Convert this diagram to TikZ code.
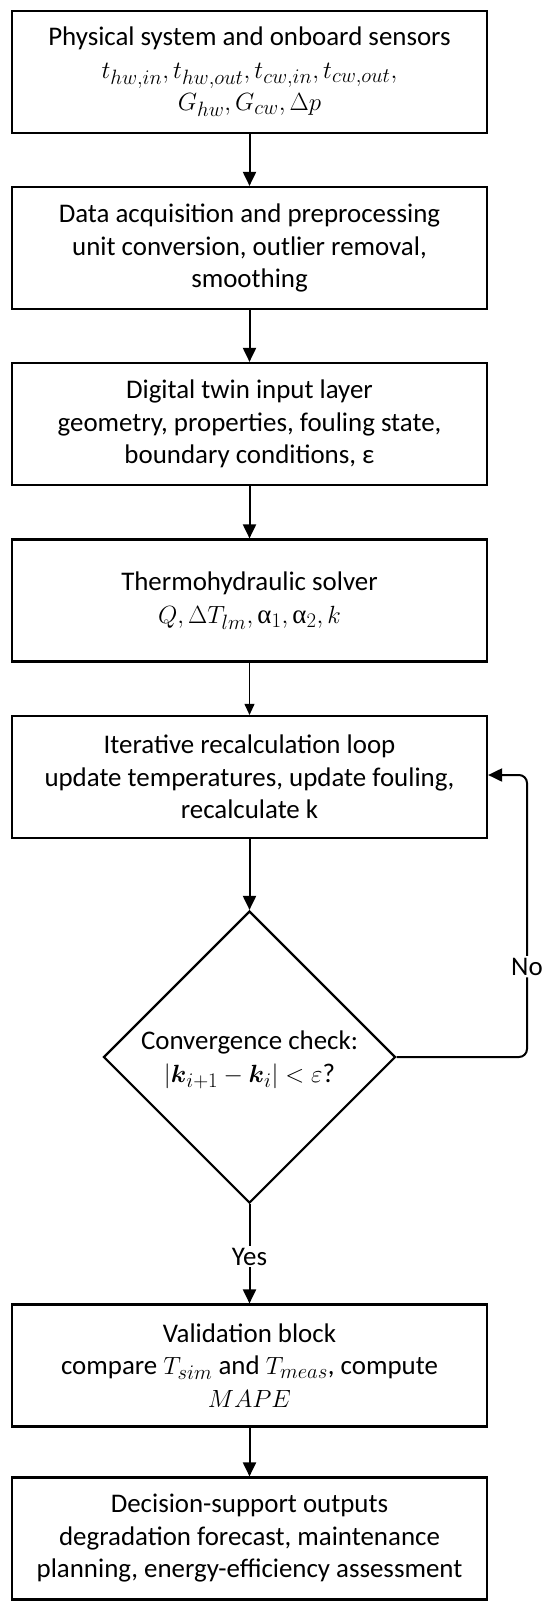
\documentclass[tikz,border=0pt]{standalone}
\usepackage{fontspec}
\usepackage{amsmath}
\setmainfont{Carlito}
\newfontfamily\grk{Liberation Serif}
\DeclareMathSizes{26.9}{28.8}{20.2}{14.4}
\usetikzlibrary{arrows.meta,shapes.geometric}
\begin{document}
\begin{tikzpicture}[x=1pt,y=1pt,
  box/.style={draw, line width=2.2pt, minimum width=475pt, minimum height=122pt, align=center, inner sep=0pt},
  decision/.style={draw, line width=2.2pt, shape=diamond, minimum width=292pt, minimum height=292pt, inner sep=0pt},
  lbl/.style={fill=white, inner sep=2pt, align=center},
  flow/.style={line width=2pt, -{Triangle[length=14pt,width=13pt]}},
  thinflow/.style={line width=1pt, -{Triangle[length=11pt,width=10pt]}},
  font=\fontsize{26.9}{32.5}\selectfont]
\useasboundingbox (0,0) rectangle (550,-1611);
\node[box] (b1) at (249.5,-72) {Physical system and onboard sensors\\$t_{hw,in}, t_{hw,out}, t_{cw,in}, t_{cw,out},$\\$G_{hw}, G_{cw}, \Delta p$};
\node[box] (b2) at (249.5,-248) {Data acquisition and preprocessing\\unit conversion, outlier removal,\\smoothing};
\node[box] (b3) at (249.5,-424) {Digital twin input layer\\geometry, properties, fouling state,\\boundary conditions, ε};
\node[box] (b4) at (249.5,-600.5) {Thermohydraulic solver\\$Q, \Delta T_{lm}, \text{\grk α}_1, \text{\grk α}_2, k$};
\node[box] (b5) at (249.5,-777) {Iterative recalculation loop\\update temperatures, update fouling,\\recalculate k};
\node[decision] (d) at (249.5,-1057) {};
\node[align=center] (dt) at (249.5,-1060) {Convergence check:\\$|\boldsymbol{k}_{i+1}-\boldsymbol{k}_i|<\varepsilon$?};
\node[box] (b6) at (249.5,-1365.5) {Validation block\\compare $T_{sim}$ and $T_{meas}$, compute\\$MAPE$};
\node[box] (b7) at (249.5,-1538.5) {Decision-support outputs\\degradation forecast, maintenance\\planning, energy-efficiency assessment};
\draw[flow] (b1) -- (b2);
\draw[flow] (b2) -- (b3);
\draw[flow] (b3) -- (b4);
\draw[thinflow] (b4) -- (b5);
\draw[flow] (b5) -- (d);
\draw[flow] (d.south) -- node[lbl, pos=0.53] (yes) {Yes} (b6.north);
\coordinate (c1) at (527,-1057);
\coordinate (c2) at (527,-775);
\draw[flow, rounded corners=8pt] (d.east) -- (c1) -- node[lbl, pos=0.32] (no) {No} (c2) -- (b5.east |- c2);
\draw[flow] (b6) -- (b7);
\end{tikzpicture}
\end{document}
